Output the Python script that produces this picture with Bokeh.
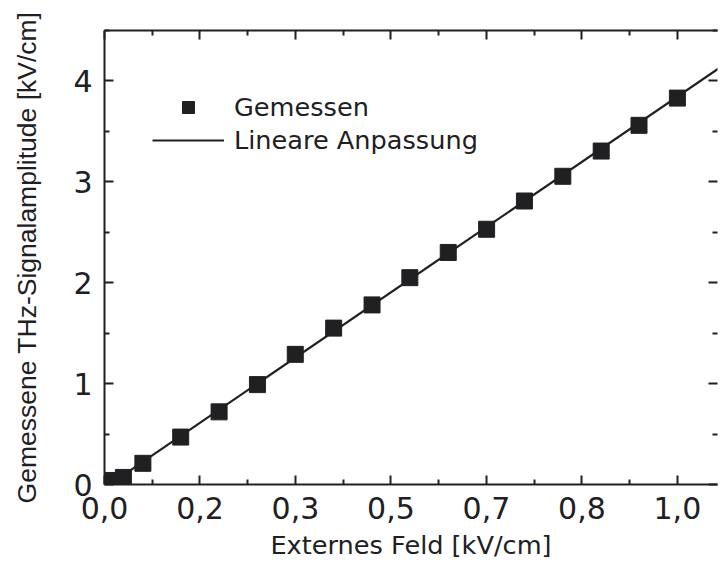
from bokeh.plotting import figure
from bokeh.models import (LinearAxis, FixedTicker, Range1d, Legend, LegendItem,
                          ColumnDataSource, CustomLabelingPolicy)
from bokeh.embed import file_html
from bokeh.resources import INLINE

# ---- data ----
feld = [0.008, 0.033, 0.067, 0.133, 0.200, 0.267, 0.333, 0.400, 0.467,
        0.533, 0.600, 0.667, 0.733, 0.800, 0.867, 0.933, 1.000]
amplitude = [0.04, 0.07, 0.21, 0.47, 0.72, 0.99, 1.29, 1.55, 1.78,
             2.05, 2.30, 2.53, 2.81, 3.055, 3.305, 3.56, 3.83]

fit_x = [0.0, 1.10]
fit_y = [-0.035, 4.233]

x_tick_values = [0.0, 1/6, 2/6, 3/6, 4/6, 5/6, 1.0]
x_tick_labels = ["0,0", "0,2", "0,3", "0,5", "0,7", "0,8", "1,0"]
x_minor_values = [1/12, 3/12, 5/12, 7/12, 9/12, 11/12, 13/12]
y_tick_values = [0, 1, 2, 3, 4]
y_tick_labels = ["0", "1", "2", "3", "4"]
y_minor_values = [0.5, 1.5, 2.5, 3.5, 4.5]

x_label = "Externes Feld [kV/cm]"
y_label = "Gemessene THz-Signalamplitude [kV/cm]"
legend_labels = ["Gemessen", "Lineare Anpassung"]

FONT = "DejaVu Sans"
FONT_Y = "Liberation Sans"
INK = "#202022"

p = figure(width=721, height=567, output_backend="svg", toolbar_location=None,
           x_range=Range1d(0, 1.07), y_range=Range1d(0, 4.5),
           x_axis_location=None, y_axis_location=None,
           min_border_left=104, min_border_right=0, min_border_top=30,
           min_border_bottom=83)
p.outline_line_color = None
p.grid.visible = False
p.background_fill_color = "white"
p.border_fill_color = "white"

hide_labels = CustomLabelingPolicy(code="""
try {
  for (const i of Array.from(indices)) { indices.unset(i) }
} catch (e) {}
return indices
""")

def style_axis(ax, show_labels):
    ax.axis_line_color = INK
    ax.axis_line_width = 2
    ax.major_tick_line_color = INK
    ax.minor_tick_line_color = INK
    ax.major_tick_line_width = 2
    ax.minor_tick_line_width = 2
    ax.major_tick_in = 9
    ax.major_tick_out = 0
    ax.minor_tick_in = 5
    ax.minor_tick_out = 0
    if show_labels:
        ax.major_label_text_font = FONT
        ax.major_label_text_font_size = "30px"
        ax.major_label_text_color = INK
        ax.axis_label_text_font = FONT
        ax.axis_label_text_font_size = "25.6px"
        ax.axis_label_text_font_style = "normal"
        ax.axis_label_text_color = INK
    else:
        ax.major_label_policy = hide_labels
        ax.major_label_text_font_size = "1px"
        ax.major_label_standoff = 0

xt = FixedTicker(ticks=x_tick_values, minor_ticks=x_minor_values)
yt = FixedTicker(ticks=y_tick_values, minor_ticks=y_minor_values)

bottom = LinearAxis(ticker=xt, axis_label=x_label)
bottom.major_label_overrides = dict(zip(x_tick_values, x_tick_labels))
style_axis(bottom, True)
bottom.major_label_standoff = 12
bottom.axis_label_standoff = 8
p.add_layout(bottom, "below")

left = LinearAxis(ticker=yt, axis_label=y_label)
left.major_label_overrides = dict(zip(y_tick_values, y_tick_labels))
style_axis(left, True)
left.axis_label_text_font = FONT_Y
left.axis_label_text_font_size = "26.5px"
left.major_label_standoff = 12
left.axis_label_standoff = 28
p.add_layout(left, "left")

top = LinearAxis(ticker=xt)
style_axis(top, False)
p.add_layout(top, "above")

right = LinearAxis(ticker=yt)
style_axis(right, False)
right.axis_line_color = None
p.add_layout(right, "right")

src = ColumnDataSource(dict(x=feld, y=amplitude))
line_r = p.line(fit_x, fit_y, line_color=INK, line_width=2.2)
sq_r = p.scatter("x", "y", source=src, marker="square", size=16,
                 fill_color=INK, line_color=INK, line_width=1)

legend = Legend(items=[LegendItem(label=legend_labels[0], renderers=[sq_r]),
                       LegendItem(label=legend_labels[1], renderers=[line_r])],
                location=(48, 329), orientation="vertical")
legend.border_line_color = None
legend.background_fill_alpha = 0
legend.label_text_font = FONT
legend.label_text_font_size = "25.6px"
legend.label_text_color = INK
legend.glyph_width = 72
legend.glyph_height = 30
legend.label_standoff = 10
legend.padding = 0
legend.margin = 0
legend.spacing = 3
p.add_layout(legend)

open("out.html", "w").write(file_html(p, INLINE))
